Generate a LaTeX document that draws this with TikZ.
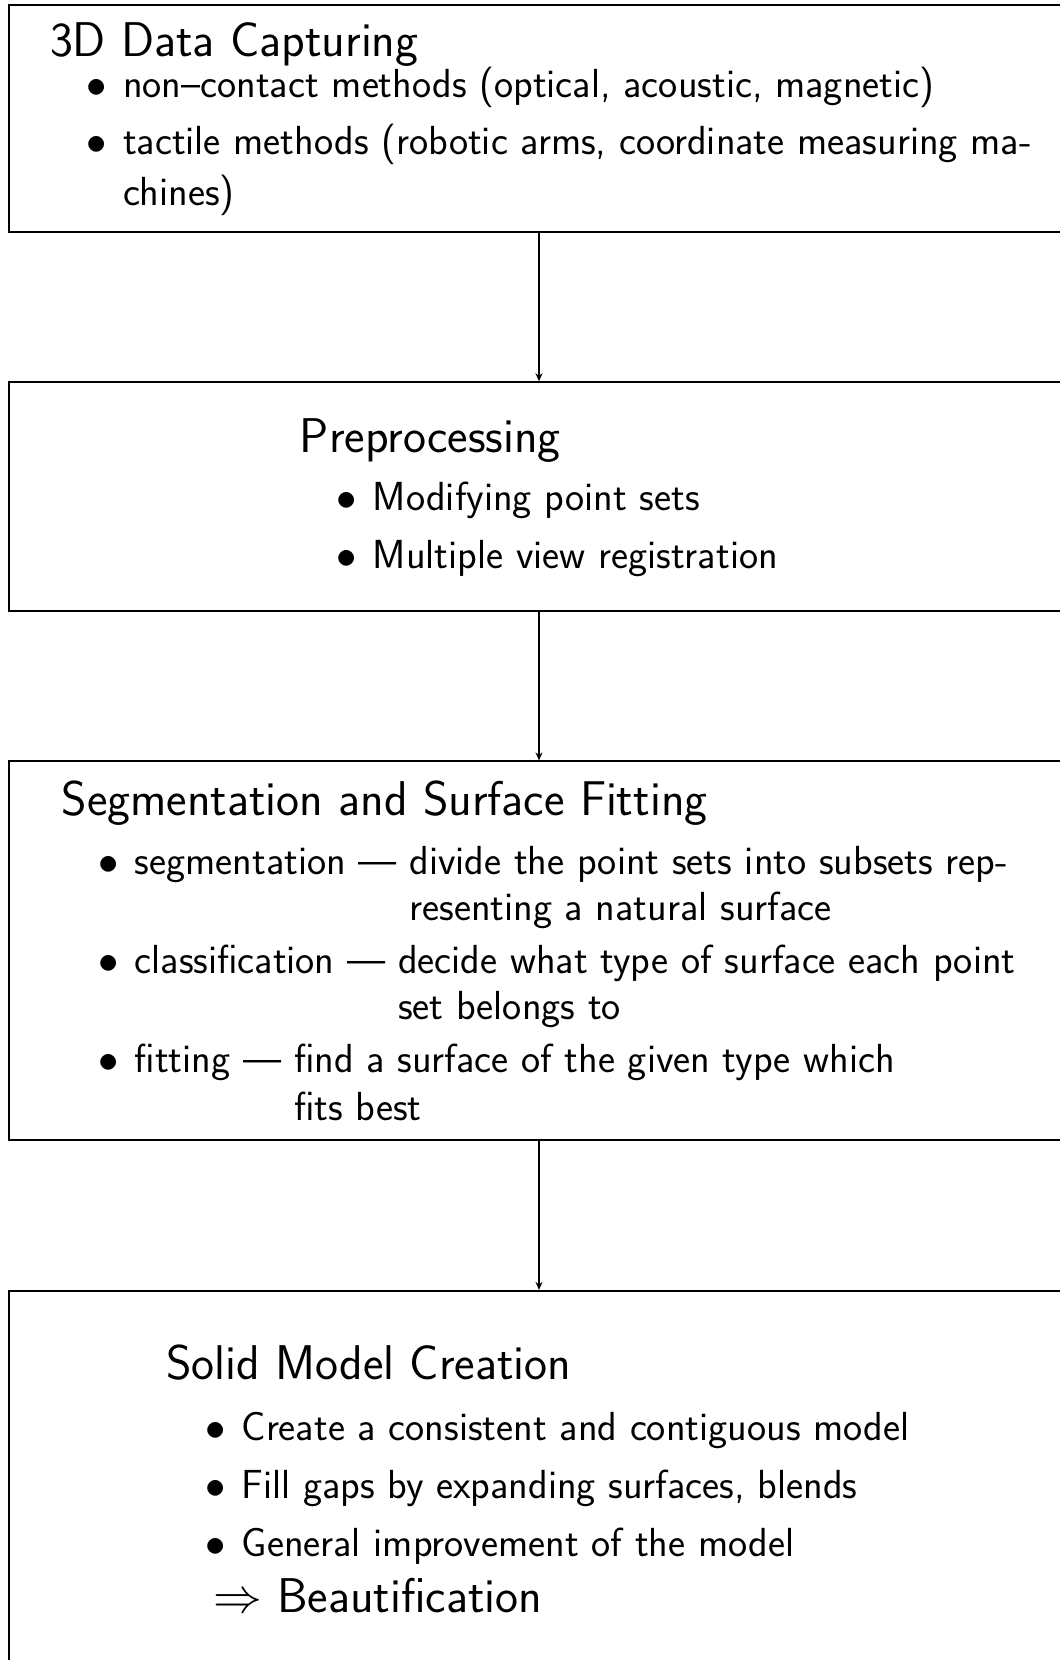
\RequirePackage{fix-cm}
\documentclass[tikz,border=0pt]{standalone}
\usetikzlibrary{arrows.meta}
\begin{document}
\begin{tikzpicture}[x=1pt,y=-1pt,
  box/.style={draw,line width=2pt,minimum width=1061pt,inner sep=0pt},
  flow/.style={line width=1.2pt,-{Stealth[length=8pt,width=7pt]}},
  body/.style={anchor=base west,inner sep=0pt,font=\sffamily\fontsize{40.6}{48}\selectfont},
  ttl/.style={anchor=base west,inner sep=0pt,font=\sffamily\fontsize{48.8}{58}\selectfont}]
\useasboundingbox (0,0) rectangle (1060,1660);
\clip (0,0) rectangle (1060,1660);
\newcommand{\bul}{\llap{$\bullet$\hspace{16pt}}}
% boxes
\node[box,minimum height=226.7pt] (b1) at (539,118.6) {};
\node[box,minimum height=228.7pt] (b2) at (539,496.6) {};
\node[box,minimum height=379pt] (b3) at (539,950.9) {};
\node[box,minimum height=409pt] (b4) at (539,1495.4) {};
\draw[flow] (b1.south) -- (b2.north);
\draw[flow] (b2.south) -- (b3.north);
\draw[flow] (b3.south) -- (b4.north);
% box 1
\node[ttl] (t1) at (49.8,56.8) {3D Data Capturing};
\node[body] (t1a) at (122.8,97.2) {\bul non--contact methods (optical, acoustic, magnetic)};
\node[body] (t1b) at (122.8,154.6) {\bul tactile methods (robotic arms, coordinate measuring ma-};
\node[body] (t1c) at (122.8,205.4) {chines)};
% box 2
\node[ttl] (t2) at (299.7,452.1) {Preprocessing};
\node[body] (t2a) at (372.7,510.4) {\bul Modifying point sets};
\node[body] (t2b) at (372.7,568.6) {\bul Multiple view registration};
% box 3
\node[ttl] (t3) at (61.4,815.4) {Segmentation and Surface Fitting};
\node[body] (t3a) at (134.5,874.7) {\bul segmentation --- divide the point sets into subsets rep-};
\node[body] (t3b) at (134.5,920.5) {\phantom{segmentation --- }resenting a natural surface};
\node[body] (t3c) at (134.5,973.1) {\bul classification --- decide what type of surface each point};
\node[body] (t3d) at (134.5,1019.7) {\phantom{classification --- }set belongs to};
\node[body] (t3e) at (134.5,1072.7) {\bul fitting --- find a surface of the given type which};
\node[body] (t3f) at (134.5,1120.4) {\phantom{fitting --- }fits best};
% box 4
\node[ttl] (t4) at (166.2,1379.7) {Solid Model Creation};
\node[body] (t4a) at (241.4,1440.1) {\bul Create a consistent and contiguous model};
\node[body] (t4b) at (241.4,1498.3) {\bul Fill gaps by expanding surfaces, blends};
\node[body] (t4c) at (241.4,1556.6) {\bul General improvement of the model};
\node[ttl] (t4d) at (212.8,1612.5) {$\Rightarrow$ Beautification};
\end{tikzpicture}
\end{document}
